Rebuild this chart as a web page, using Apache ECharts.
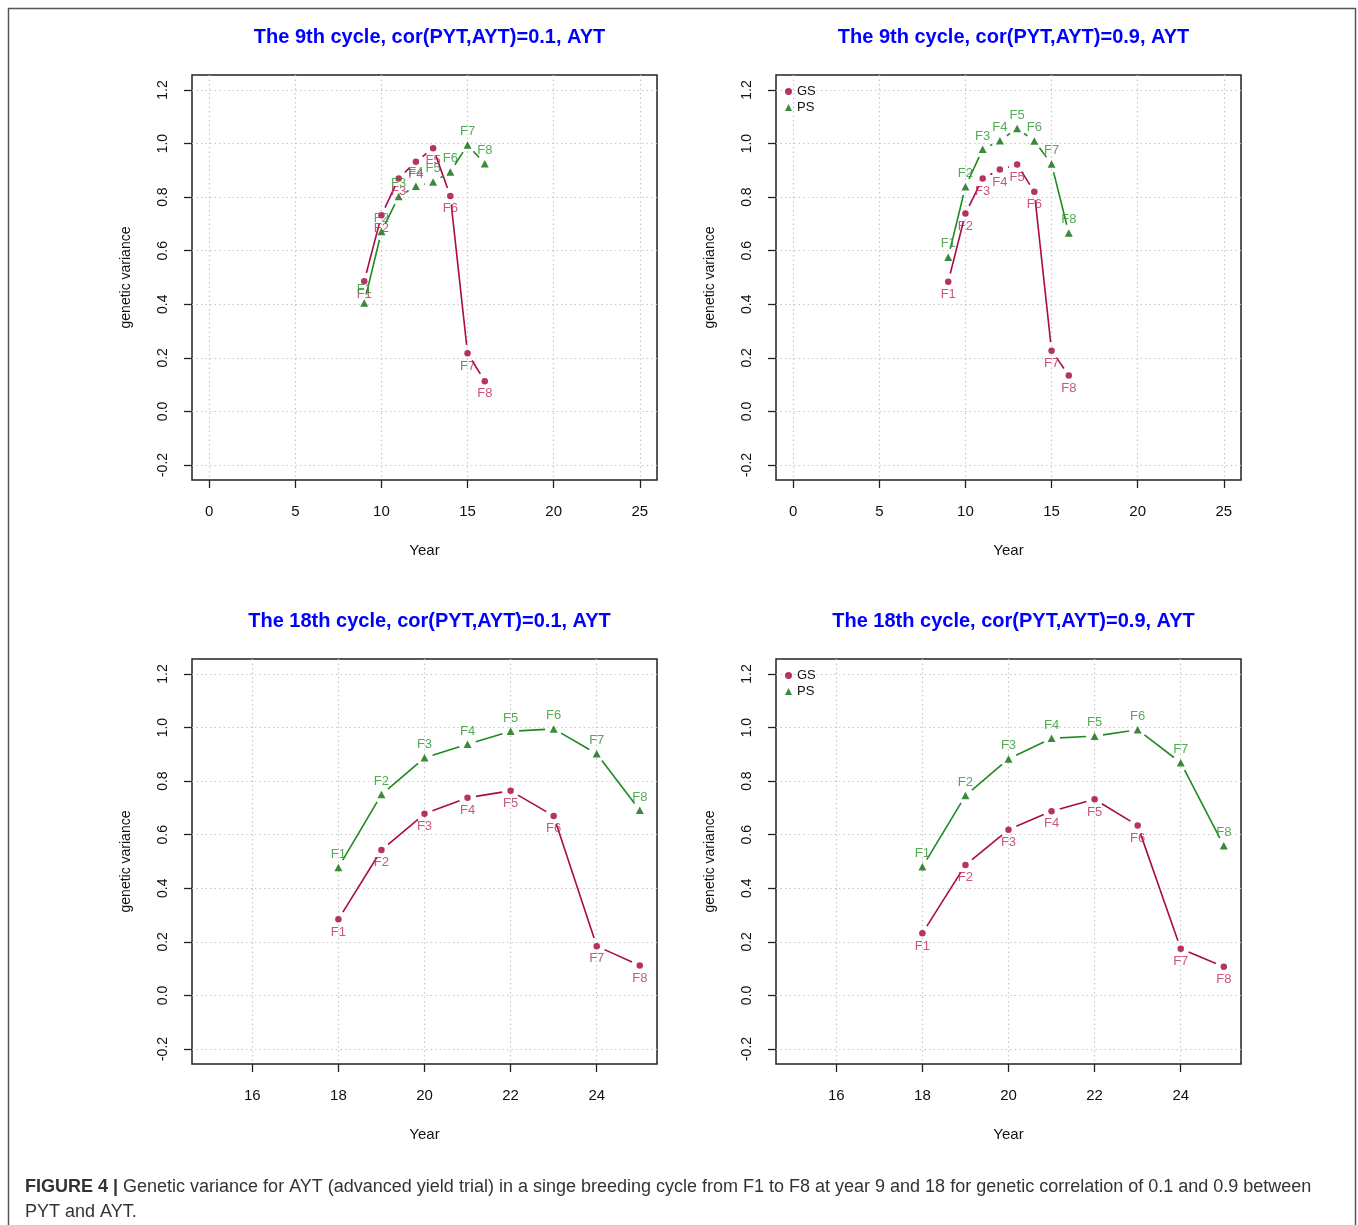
<!DOCTYPE html>
<html>
<head>
<meta charset="utf-8">
<script src="https://cdn.jsdelivr.net/npm/echarts@6/dist/echarts.min.js"></script>
<style>
html,body{margin:0;padding:0;background:#fff;}
#chart{width:1358px;height:1225px;}
</style>
</head>
<body>
<div id="chart"></div>
<script>
// ---------------- data ----------------
const generations = ['F1','F2','F3','F4','F5','F6','F7','F8'];
const years9 = [9,10,11,12,13,14,15,16];
const years18 = [18,19,20,21,22,23,24,25];

const gs_c9_r01  = [0.486,0.732,0.870,0.932,0.983,0.804,0.217,0.113];
const ps_c9_r01  = [0.405,0.672,0.802,0.841,0.857,0.894,0.995,0.925];
const gs_c9_r09  = [0.484,0.739,0.870,0.903,0.922,0.820,0.227,0.134];
const ps_c9_r09  = [0.576,0.839,0.979,1.011,1.056,1.010,0.924,0.666];
const gs_c18_r01 = [0.284,0.543,0.678,0.738,0.764,0.670,0.184,0.112];
const ps_c18_r01 = [0.478,0.750,0.887,0.938,0.986,0.995,0.902,0.691];
const gs_c18_r09 = [0.232,0.487,0.619,0.688,0.732,0.634,0.174,0.107];
const ps_c18_r09 = [0.480,0.746,0.883,0.960,0.968,0.992,0.869,0.559];

const xTicksTop = [0,5,10,15,20,25];
const xTicksBottom = [16,18,20,22,24];
const yTicks = [-0.2,0.0,0.2,0.4,0.6,0.8,1.0,1.2];

const panelTitles = [
  'The 9th cycle, cor(PYT,AYT)=0.1, AYT',
  'The 9th cycle, cor(PYT,AYT)=0.9, AYT',
  'The 18th cycle, cor(PYT,AYT)=0.1, AYT',
  'The 18th cycle, cor(PYT,AYT)=0.9, AYT'
];
const captionBold = 'FIGURE 4 |';
const captionLine1 = ' Genetic variance for AYT (advanced yield trial) in a singe breeding cycle from F1 to F8 at year 9 and 18 for genetic correlation of 0.1 and 0.9 between';
const captionLine2 = 'PYT and AYT.';

// ---------------- layout / style ----------------
const panels = [
  {x: years9,  gs: gs_c9_r01,  ps: ps_c9_r01,  ticks: xTicksTop,    min: -1,   max: 26,   left: 192, top: 75,  legend: false},
  {x: years9,  gs: gs_c9_r09,  ps: ps_c9_r09,  ticks: xTicksTop,    min: -1,   max: 26,   left: 776, top: 75,  legend: true},
  {x: years18, gs: gs_c18_r01, ps: ps_c18_r01, ticks: xTicksBottom, min: 14.6, max: 25.4, left: 192, top: 659, legend: false},
  {x: years18, gs: gs_c18_r09, ps: ps_c18_r09, ticks: xTicksBottom, min: 14.6, max: 25.4, left: 776, top: 659, legend: true}
];
const W = 465, H = 405;
const GS_COL = '#A5003A', GS_LINE = '#A80C44', GS_TXT = '#BC2A64';
const PS_COL = '#0B6B0B', PS_LINE = '#1F8A1F', PS_TXT = '#2A962A';
const FONT = 'Liberation Sans, Arial, sans-serif';

function segSeries(xs, ys, color, idx) {
  const data = [];
  for (let i = 0; i < xs.length - 1; i++) data.push([xs[i], ys[i], xs[i+1], ys[i+1]]);
  return {
    type: 'custom', name: 'seg' + idx + color, xAxisIndex: idx, yAxisIndex: idx,
    data: data, silent: true, z: 2,
    encode: {x: [0, 2], y: [1, 3]},
    renderItem: function (params, api) {
      const p0 = api.coord([api.value(0), api.value(1)]);
      const p1 = api.coord([api.value(2), api.value(3)]);
      const dx = p1[0] - p0[0], dy = p1[1] - p0[1];
      const L = Math.hypot(dx, dy), g = 8.5;
      if (L <= 2 * g) return null;
      const ux = dx / L, uy = dy / L;
      return {type: 'line',
        shape: {x1: p0[0] + ux * g, y1: p0[1] + uy * g, x2: p1[0] - ux * g, y2: p1[1] - uy * g},
        style: {stroke: color, lineWidth: 1.6}};
    }
  };
}

const grid = [], xAxis = [], yAxis = [], series = [], title = [], legend = [];
panels.forEach(function (p, i) {
  grid.push({left: p.left, top: p.top, width: W, height: H, show: true,
    borderColor: '#222', borderWidth: 1.5, backgroundColor: '#fff', containLabel: false});
  xAxis.push({type: 'value', gridIndex: i, min: p.min, max: p.max, position: 'bottom',
    name: 'Year', nameLocation: 'middle', nameGap: 63,
    nameTextStyle: {fontFamily: FONT, fontSize: 15, color: '#111'},
    axisLine: {show: false, onZero: false},
    axisTick: {show: true, length: 8, customValues: p.ticks, lineStyle: {color: '#222', width: 1.3}},
    axisLabel: {customValues: p.ticks, margin: 24, fontFamily: FONT, fontSize: 15, color: '#111'},
    splitLine: {show: true, lineStyle: {color: '#c8c8c8', type: [1.5, 3], width: 1.2}}
  });
  yAxis.push({type: 'value', gridIndex: i, min: -0.256, max: 1.256, position: 'left',
    name: 'genetic variance', nameLocation: 'middle', nameGap: 59, nameRotate: 90,
    nameTextStyle: {fontFamily: FONT, fontSize: 14, color: '#111'},
    axisLine: {show: false, onZero: false},
    axisTick: {show: true, length: 8, customValues: yTicks, lineStyle: {color: '#222', width: 1.3}},
    axisLabel: {customValues: yTicks, rotate: 90, margin: 22, fontFamily: FONT, fontSize: 14, color: '#111',
      formatter: function (v) { return v.toFixed(1); }},
    splitLine: {show: true, lineStyle: {color: '#c8c8c8', type: [1.5, 3], width: 1.2}}
  });
  title.push({text: panelTitles[i], left: p.left + W / 2, top: p.top - 53, textAlign: 'center',
    textStyle: {fontFamily: FONT, fontSize: 20, fontWeight: 'bold', color: '#0000FF'}});
  series.push(segSeries(p.x, p.gs, GS_LINE, i));
  series.push(segSeries(p.x, p.ps, PS_LINE, i));
  series.push({type: 'scatter', name: 'GS', xAxisIndex: i, yAxisIndex: i, z: 4,
    symbol: 'circle', symbolSize: 6.5,
    itemStyle: {color: GS_COL},
    data: p.x.map(function (x, k) { return [x, p.gs[k]]; }),
    label: {show: true, position: 'bottom', distance: 3, fontFamily: FONT, fontSize: 13, color: GS_TXT,
      formatter: function (d) { return generations[d.dataIndex]; }}
  });
  series.push({type: 'scatter', name: 'PS', xAxisIndex: i, yAxisIndex: i, z: 4,
    symbol: 'triangle', symbolSize: [8, 7.5],
    itemStyle: {color: PS_COL},
    data: p.x.map(function (x, k) { return [x, p.ps[k]]; }),
    label: {show: true, position: 'top', distance: 3, fontFamily: FONT, fontSize: 13, color: PS_TXT,
      formatter: function (d) { return generations[d.dataIndex]; }}
  });
  if (p.legend) {
    legend.push({data: [{name: 'GS', itemStyle: {color: GS_COL}}, {name: 'PS'}],
      orient: 'vertical', left: p.left + 7, top: p.top + 8, padding: 2,
      itemWidth: 7, itemHeight: 7, itemGap: 3, selectedMode: false,
      textStyle: {fontFamily: FONT, fontSize: 13, color: '#111'}});
  }
});

// caption font sizing to target width
const CAP_FONT = '"Liberation Sans Narrow", "Arial Narrow", "Liberation Sans", Arial, sans-serif';
const ctx = document.createElement('canvas').getContext('2d');
function capWidth(sz) {
  ctx.font = 'bold ' + sz + 'px ' + CAP_FONT;
  let w = ctx.measureText(captionBold).width;
  ctx.font = sz + 'px ' + CAP_FONT;
  return w + ctx.measureText(captionLine1).width;
}
let capSize = 18;
for (let s = 14; s <= 22; s += 0.25) { if (capWidth(s) <= 1290) capSize = s; }

const chart = echarts.init(document.getElementById('chart'), null, {renderer: 'canvas'});
chart.setOption({
  backgroundColor: '#fff',
  animation: false,
  title: title,
  legend: legend,
  grid: grid,
  xAxis: xAxis,
  yAxis: yAxis,
  series: series,
  graphic: [
    {type: 'rect', shape: {x: 8.5, y: 8.5, width: 1347, height: 1240}, silent: true,
      style: {fill: 'none', stroke: '#555', lineWidth: 1.5}, z: -10},
    {type: 'text', left: 25, top: 1178, silent: true,
      style: {text: '{b|' + captionBold + '}{n|' + captionLine1 + '}',
        rich: {b: {fontFamily: CAP_FONT, fontSize: capSize, fontWeight: 'bold', fill: '#333'},
               n: {fontFamily: CAP_FONT, fontSize: capSize, fill: '#333'}}}},
    {type: 'text', left: 25, top: 1203, silent: true,
      style: {text: captionLine2, fontFamily: CAP_FONT, fontSize: capSize, fill: '#333'}}
  ]
});
</script>
</body>
</html>
